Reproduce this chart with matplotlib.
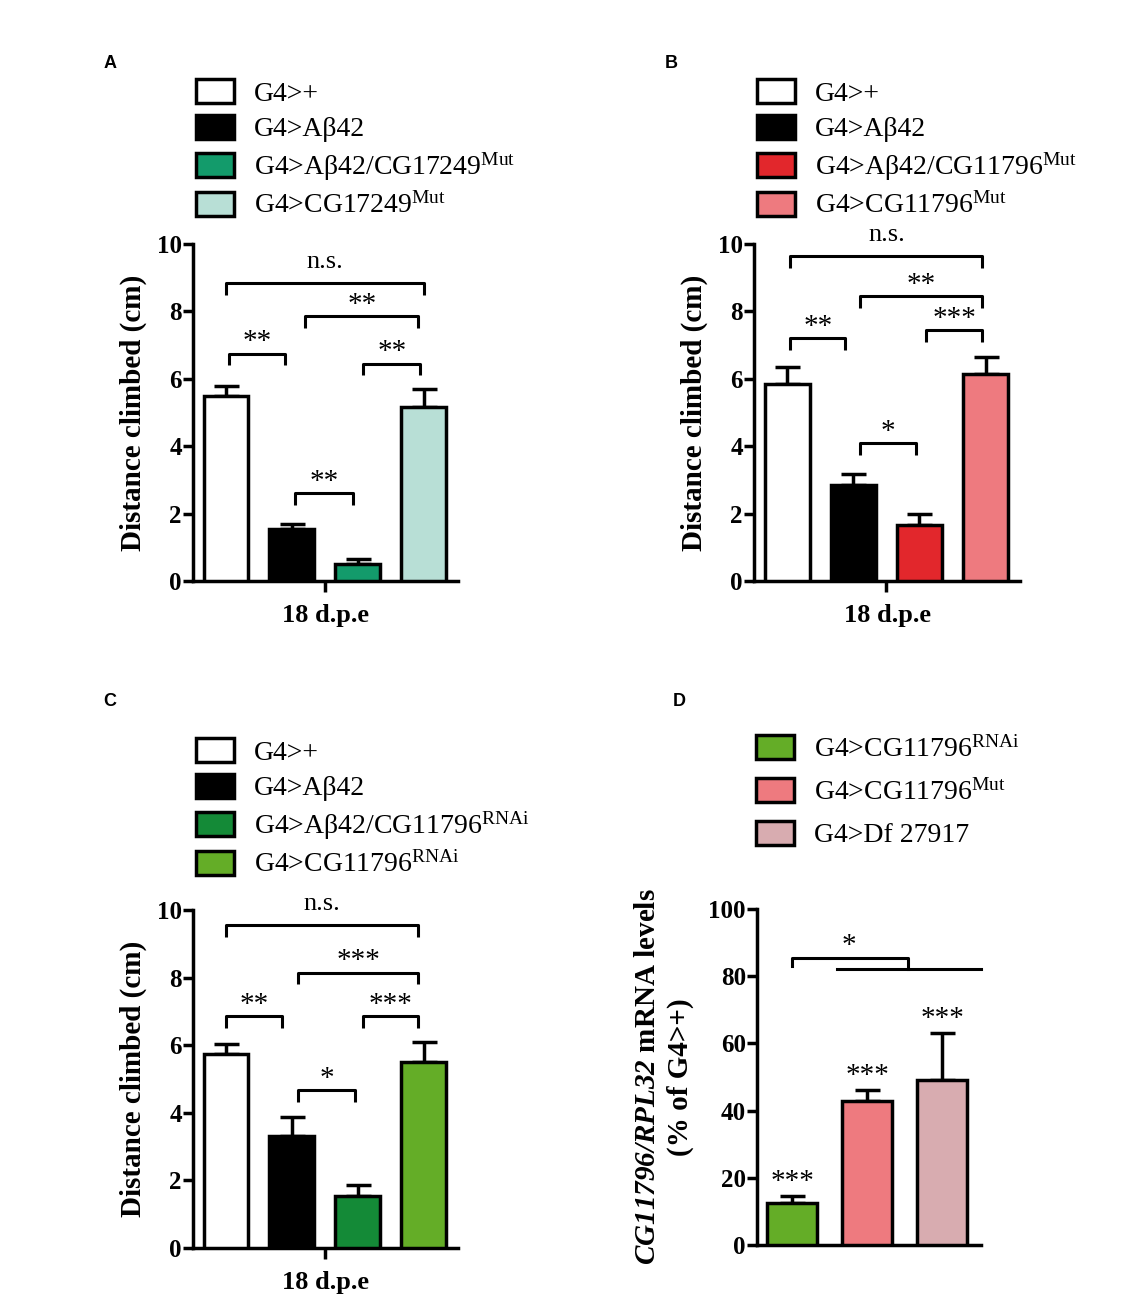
import matplotlib
matplotlib.use("Agg")
import matplotlib.pyplot as plt
import numpy as np

plt.rcParams['font.family'] = ['Liberation Serif', 'DejaVu Serif']
plt.rcParams['mathtext.fontset'] = 'custom'
plt.rcParams['mathtext.rm'] = 'Liberation Serif:italic:bold'
plt.rcParams['mathtext.it'] = 'Liberation Serif:italic:bold'
plt.rcParams['mathtext.sf'] = 'Liberation Serif'

# panel A
a_labels = ['G4>+', 'G4>Aβ42', r'G4>Aβ42/CG17249$^{\mathsf{Mut}}$', r'G4>CG17249$^{\mathsf{Mut}}$']
a_means = [5.5, 1.55, 0.5, 5.15]
a_errs = [0.3, 0.15, 0.15, 0.55]
a_sig = [(0, 3, 8.85, 'n.s.'), (1.2, 2.92, 7.85, '**'), (0.05, 0.9, 6.75, '**'),
         (2.08, 2.95, 6.45, '**'), (1.05, 1.92, 2.6, '**')]

# panel B
b_labels = ['G4>+', 'G4>Aβ42', r'G4>Aβ42/CG11796$^{\mathsf{Mut}}$', r'G4>CG11796$^{\mathsf{Mut}}$']
b_means = [5.85, 2.85, 1.65, 6.15]
b_errs = [0.5, 0.33, 0.35, 0.5]
b_sig = [(0.05, 2.95, 9.65, 'n.s.'), (1.1, 2.95, 8.45, '**'), (2.1, 2.95, 7.45, '***'),
         (0.05, 0.88, 7.2, '**'), (1.1, 1.95, 4.1, '*')]

# panel C
c_labels = ['G4>+', 'G4>Aβ42', r'G4>Aβ42/CG11796$^{\mathsf{RNAi}}$', r'G4>CG11796$^{\mathsf{RNAi}}$']
c_means = [5.75, 3.3, 1.55, 5.5]
c_errs = [0.3, 0.58, 0.3, 0.6]
c_sig = [(0.0, 2.92, 9.55, 'n.s.'), (1.1, 2.92, 8.15, '***'), (0.0, 0.85, 6.85, '**'),
         (2.08, 2.92, 6.85, '***'), (1.1, 1.95, 4.68, '*')]

# panel D
d_labels = [r'G4>CG11796$^{\mathsf{RNAi}}$', r'G4>CG11796$^{\mathsf{Mut}}$', 'G4>Df 27917']
d_means = [12.5, 43.0, 49.0]
d_errs = [2.0, 3.0, 14.0]
d_stars = ['***', '***', '***']

a_colors = ['white', 'black', '#139b6b', '#b8dfd6']
b_colors = ['white', 'black', '#e2272c', '#ee7a7f']
c_colors = ['white', 'black', '#148a37', '#64ad27']
d_colors = ['#64ad27', '#ee7a7f', '#d8acb0']

LW = 2.5
W, H = 1129, 1300
fig = plt.figure(figsize=(W / 100, H / 100), dpi=100)


def px_axes(x0, y0, x1, y1):
    return fig.add_axes([x0 / W, 1 - y1 / H, (x1 - x0) / W, (y1 - y0) / H])


def style(ax, ymax, step):
    ax.spines['top'].set_visible(False)
    ax.spines['right'].set_visible(False)
    for s in ['left', 'bottom']:
        ax.spines[s].set_linewidth(LW)
    ax.set_ylim(0, ymax)
    ax.set_yticks(np.arange(0, ymax + 1, step))
    ax.tick_params(axis='y', length=7, width=LW, labelsize=18, pad=1)
    for t in ax.get_yticklabels():
        t.set_fontweight('bold')


def bars(ax, means, errs, colors, width=0.68):
    x = np.arange(len(means))
    b = ax.bar(x, means, width, color=colors, edgecolor='black', linewidth=LW, zorder=3)
    ax.errorbar(x, means, yerr=[np.zeros(len(errs)), errs], fmt='none', ecolor='black',
                elinewidth=LW, capsize=9, capthick=LW, zorder=2)
    return b


def bracket(ax, x1, x2, y, text, leg=0.35):
    ax.plot([x1, x1, x2, x2], [y - leg, y, y, y - leg], color='black', lw=2.2,
            clip_on=False, solid_capstyle='butt')
    if text == 'n.s.':
        ax.text((x1 + x2) / 2, y + 0.3, text, ha='center', va='bottom', fontsize=19)
    else:
        ax.text((x1 + x2) / 2, y - 0.05, text, ha='center', va='bottom', fontsize=21)


def climb_panel(rect, means, errs, colors, sig, labels, leg_pos):
    ax = px_axes(*rect)
    b = bars(ax, means, errs, colors)
    style(ax, 10, 2)
    ax.set_xlim(-0.5, 3.52)
    ax.set_xticks([1.5])
    ax.set_xticklabels([''])
    ax.tick_params(axis='x', length=8, width=LW)
    ax.set_xlabel('18 d.p.e', fontsize=19, fontweight='bold', labelpad=5)
    ax.set_ylabel('Distance climbed (cm)', fontsize=21, fontweight='bold', labelpad=7)
    for x1, x2, y, t in sig:
        bracket(ax, x1, x2, y, t)
    fig.legend(list(b), labels, loc='upper left', bbox_to_anchor=leg_pos, frameon=False,
               fontsize=20, handlelength=1.35, handleheight=0.95, handletextpad=0.75,
               labelspacing=0.3, borderpad=0, borderaxespad=0)
    return ax


climb_panel((193, 244, 458, 581), a_means, a_errs, a_colors, a_sig, a_labels,
            (196 / W, 1 - 79 / H))
climb_panel((754, 244, 1020, 581), b_means, b_errs, b_colors, b_sig, b_labels,
            (757 / W, 1 - 79 / H))
climb_panel((193, 910, 458, 1248), c_means, c_errs, c_colors, c_sig, c_labels,
            (196 / W, 1 - 738 / H))

# panel D
axd = px_axes(757, 909, 981, 1245)
bd = bars(axd, d_means, d_errs, d_colors, width=0.66)
style(axd, 100, 20)
axd.set_xlim(-0.47, 2.52)
axd.set_xticks([])
axd.set_ylabel(r'$CG11796/RPL32$ mRNA levels' + '\n(% of G4>+)', fontsize=21,
               fontweight='bold', labelpad=10, linespacing=1.3)
for i, (m, e, s) in enumerate(zip(d_means, d_errs, d_stars)):
    axd.text(i, m + e + 0.5, s, ha='center', va='bottom', fontsize=21)
axd.plot([0, 0, 1.55, 1.55], [83, 85.5, 85.5, 82], color='black', lw=2.2, clip_on=False)
axd.plot([0.6, 2.52], [82, 82], color='black', lw=2.2, clip_on=False)
axd.text(0.75, 85.0, '*', ha='center', va='bottom', fontsize=21)
fig.legend(list(bd), d_labels, loc='upper left', bbox_to_anchor=(756 / W, 1 - 735 / H),
           frameon=False, fontsize=20, handlelength=1.35, handleheight=0.95,
           handletextpad=0.75, labelspacing=0.55, borderpad=0, borderaxespad=0)

for letter, x, y in [('A', 110, 63), ('B', 671, 63), ('C', 110, 702), ('D', 679, 702)]:
    fig.text(x / W, 1 - y / H, letter, fontsize=13, fontweight='bold',
             family=['Liberation Sans', 'DejaVu Sans'], ha='center', va='center')

fig.savefig('out.png', dpi=100)
